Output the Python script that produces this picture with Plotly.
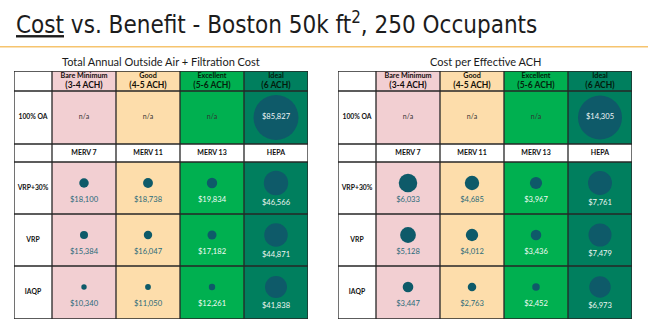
import plotly.graph_objects as go

# ---------------- data ----------------
tiers = ["Bare Minimum", "Good", "Excellent", "Ideal"]
tier_ach = ["(3-4 ACH)", "(4-5 ACH)", "(5-6 ACH)", "(6 ACH)"]
filters = ["MERV 7", "MERV 11", "MERV 13", "HEPA"]
strategies = ["VRP+30%", "VRP", "IAQP"]

# Total Annual Outside Air + Filtration Cost ($)
total_oa = [None, None, None, 85827]
total_vrp30 = [18100, 18738, 19834, 46566]
total_vrp = [15384, 16047, 17182, 44871]
total_iaqp = [10340, 11050, 12261, 41838]

# Cost per Effective ACH ($)
ach_oa = [None, None, None, 14305]
ach_vrp30 = [6033, 4685, 3967, 7761]
ach_vrp = [5128, 4012, 3436, 7479]
ach_iaqp = [3447, 2763, 2452, 6973]

title = "<u>Cost</u> vs. Benefit - Boston 50k ft<sup>2</sup>, 250 Occupants"
sub_left = "Total Annual Outside Air + Filtration Cost"
sub_right = "Cost per Effective ACH"

# ---------------- style ----------------
W, H = 648, 331
tier_fill = ["#F2CFD2", "#FDDDAB", "#00B050", "#007F5E"]
tier_head_txt = ["#140c0c", "#141006", "#03220c", "#021a0c"]
value_txt = ["#2A6B7A", "#2A6B7A", "#F4FBF6", "#EEF6F2"]
circle_col = "#0E5A69"
line_col = "#262626"
FONT = "Lato"

LABEL_W = 38
COL_W = 64
ROW_H = [20, 53, 18, 52, 52, 53]  # header, 100% OA, filter row, VRP+30%, VRP, IAQP
TABLE_TOP = 71
TABLE_H = sum(ROW_H)
row_top = [sum(ROW_H[:i]) for i in range(len(ROW_H))]

fig = go.Figure()
shapes = []
annotations = []


def add_table(idx, x_left_px, oa_vals, rows_vals, max_d):
    xa = "x" if idx == 1 else f"x{idx}"
    ya = "y" if idx == 1 else f"y{idx}"
    total_w = LABEL_W + 4 * COL_W
    fig.update_layout(**{
        ("xaxis" if idx == 1 else f"xaxis{idx}"): dict(
            domain=[x_left_px / W, (x_left_px + total_w) / W],
            range=[0, total_w], visible=False, fixedrange=True,
            anchor=ya),
        ("yaxis" if idx == 1 else f"yaxis{idx}"): dict(
            domain=[1 - (TABLE_TOP + TABLE_H) / H, 1 - TABLE_TOP / H],
            range=[TABLE_H, 0], visible=False, fixedrange=True,
            anchor=xa),
    })
    cx = [LABEL_W + COL_W * i + COL_W / 2 for i in range(4)]
    # cell fills
    for i in range(4):
        x0 = LABEL_W + COL_W * i
        for r in range(len(ROW_H)):
            if r == 2:
                continue
            shapes.append(dict(type="rect", xref=xa, yref=ya, x0=x0, x1=x0 + COL_W,
                               y0=row_top[r], y1=row_top[r] + ROW_H[r],
                               fillcolor=tier_fill[i], line=dict(width=0), layer="below"))
    # grid lines
    xs = [0, LABEL_W] + [LABEL_W + COL_W * (i + 1) for i in range(4)]
    for x in xs:
        shapes.append(dict(type="line", xref=xa, yref=ya, x0=x, x1=x, y0=0, y1=TABLE_H,
                           line=dict(color=line_col, width=1.3)))
    ys = row_top + [TABLE_H]
    for y in ys:
        shapes.append(dict(type="line", xref=xa, yref=ya, x0=0, x1=total_w, y0=y, y1=y,
                           line=dict(color=line_col, width=1.3)))

    # header text
    fig.add_trace(go.Scatter(x=cx, y=[5.6] * 4, mode="text", text=[f"<b>{t}</b>" for t in tiers],
                             textfont=dict(family=FONT, size=7.2, color=tier_head_txt),
                             xaxis=xa, yaxis=ya, hoverinfo="skip", showlegend=False))
    fig.add_trace(go.Scatter(x=cx, y=[14.6] * 4, mode="text", text=[f"<b>{t}</b>" for t in tier_ach],
                             textfont=dict(family=FONT, size=8.5, color=tier_head_txt),
                             xaxis=xa, yaxis=ya, hoverinfo="skip", showlegend=False))
    # filter row
    fig.add_trace(go.Scatter(x=cx, y=[row_top[2] + ROW_H[2] / 2 + 0.5] * 4, mode="text",
                             text=[f"<b>{t}</b>" for t in filters],
                             textfont=dict(family=FONT, size=7, color="#111"),
                             xaxis=xa, yaxis=ya, hoverinfo="skip", showlegend=False))
    # row labels
    label_rows = [1, 3, 4, 5]
    fig.add_trace(go.Scatter(x=[LABEL_W / 2] * 4,
                             y=[row_top[r] + ROW_H[r] / 2 for r in label_rows], mode="text",
                             text=[f"<b>{t}</b>" for t in ["100% OA"] + strategies],
                             textfont=dict(family=FONT, size=6.8, color="#111"),
                             xaxis=xa, yaxis=ya, hoverinfo="skip", showlegend=False))

    vmax = max(v for v in oa_vals if v is not None)
    sizeref = vmax / max_d
    # 100% OA row
    oy = row_top[1] + ROW_H[1] / 2
    na_x = [cx[i] for i, v in enumerate(oa_vals) if v is None]
    fig.add_trace(go.Scatter(x=na_x, y=[oy] * len(na_x), mode="text", text=["n/a"] * len(na_x),
                             textfont=dict(family=FONT, size=7, color="#333"),
                             xaxis=xa, yaxis=ya, hoverinfo="skip", showlegend=False))
    oa_x = [cx[i] for i, v in enumerate(oa_vals) if v is not None]
    oa_v = [v for v in oa_vals if v is not None]
    fig.add_trace(go.Scatter(x=oa_x, y=[oy] * len(oa_x), mode="markers+text",
                             marker=dict(size=oa_v, sizemode="diameter", sizeref=sizeref,
                                         color=circle_col, opacity=1, line=dict(width=0)),
                             text=[f"${v:,}" for v in oa_v], textposition="middle center",
                             textfont=dict(family=FONT, size=7.6, color="#F0F6F7"),
                             xaxis=xa, yaxis=ya, hoverinfo="skip", showlegend=False))
    # strategy rows
    px, py, ps, tx, ty, tt, tc = [], [], [], [], [], [], []
    for k, vals in enumerate(rows_vals):
        r = 3 + k
        cyc = row_top[r] + 21
        for i, v in enumerate(vals):
            d = v / sizeref
            px.append(cx[i]); py.append(cyc); ps.append(v)
            tx.append(cx[i]); ty.append(cyc + max(17, d / 2 + 8))
            tt.append(f"${v:,}"); tc.append(value_txt[i])
    fig.add_trace(go.Scatter(x=px, y=py, mode="markers",
                             marker=dict(size=ps, sizemode="diameter", sizeref=sizeref,
                                         color=circle_col, opacity=1, line=dict(width=0)),
                             xaxis=xa, yaxis=ya, hoverinfo="skip", showlegend=False))
    fig.add_trace(go.Scatter(x=tx, y=ty, mode="text", text=tt,
                             textfont=dict(family=FONT, size=7.6, color=tc),
                             xaxis=xa, yaxis=ya, hoverinfo="skip", showlegend=False))


add_table(1, 14, total_oa, [total_vrp30, total_vrp, total_iaqp], 45)
add_table(2, 338, ach_oa, [ach_vrp30, ach_vrp, ach_iaqp], 44)

# title, rule, subtitles
annotations.append(dict(text=title, xref="paper", yref="paper", x=14 / W, y=1 - 23 / H,
                        xanchor="left", yanchor="middle", showarrow=False,
                        font=dict(family="DejaVu Sans Condensed, Roboto, sans-serif", size=24,
                                  color="#1c1c1c")))
shapes.append(dict(type="line", xref="paper", yref="paper", x0=0, x1=1,
                   y0=1 - 46.7 / H, y1=1 - 46.7 / H, line=dict(color="#F6C46E", width=1.6)))
annotations.append(dict(text=sub_left, xref="paper", yref="paper", x=161 / W, y=1 - 61.5 / H,
                        xanchor="center", yanchor="middle", showarrow=False,
                        font=dict(family=FONT, size=11, color="#1a1a1a")))
annotations.append(dict(text=sub_right, xref="paper", yref="paper", x=485 / W, y=1 - 61.5 / H,
                        xanchor="center", yanchor="middle", showarrow=False,
                        font=dict(family=FONT, size=11, color="#1a1a1a")))

fig.update_layout(width=W, height=H, margin=dict(l=0, r=0, t=0, b=0),
                  paper_bgcolor="white", plot_bgcolor="white",
                  shapes=shapes, annotations=annotations, showlegend=False)

fig.write_html("out.html", config={"displayModeBar": False})
